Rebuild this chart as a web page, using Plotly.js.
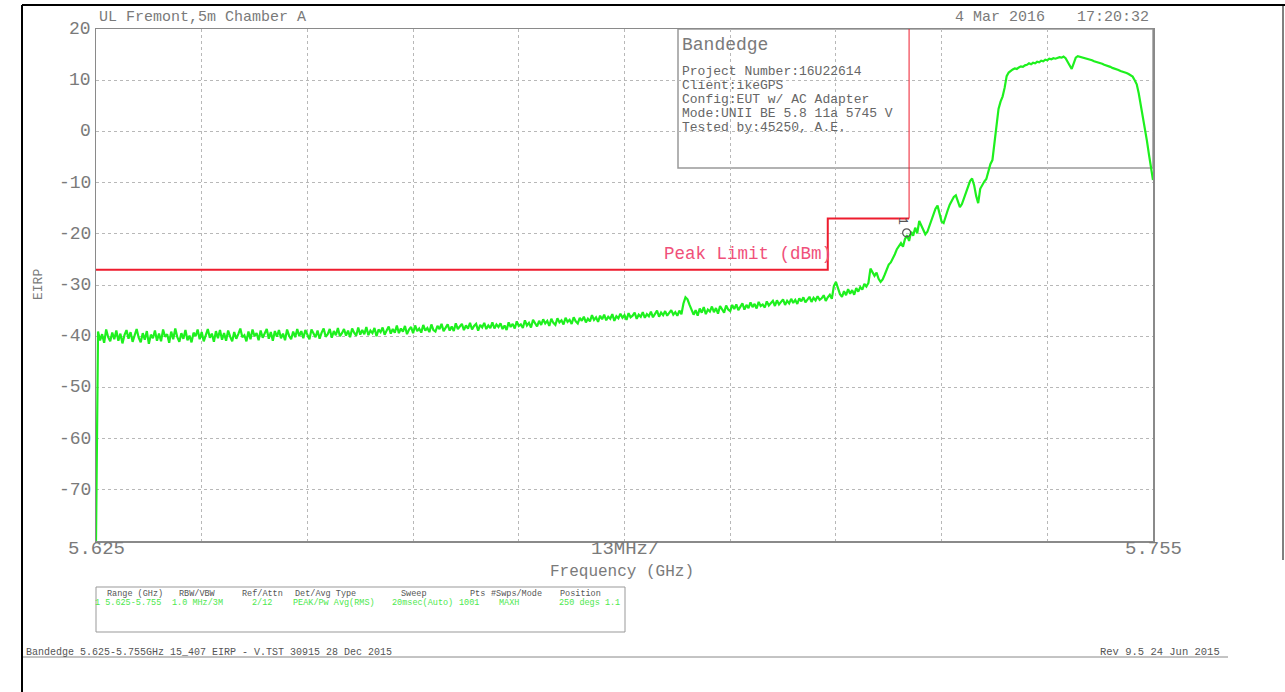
<!DOCTYPE html>
<html><head><meta charset="utf-8">
<script src="https://cdn.plot.ly/plotly-3.0.1.min.js"></script>
<style>html,body{margin:0;padding:0;background:#fff;} #chart{width:1285px;height:692px;}</style>
</head><body><div id="chart"></div>
<script>
// ---------- data ----------
const freqStartGHz = 5.625;
const freqStepGHz = 0.00025;
const eirpDbm = [
-80,
-39.1,-40.8,-39.6,-41.3,-38.7,-40.2,-41.0,-39.3,-40.6,-38.9,
-40.9,-39.5,-41.4,-39.8,-38.8,-40.5,-39.2,-41.1,-40.0,-38.6,
-40.3,-41.2,-39.4,-40.7,-39.0,-41.5,-39.7,-40.4,-38.9,-40.9,
-39.5,-41.0,-38.7,-40.1,-39.6,-41.3,-39.1,-40.6,-38.5,-40.2,
-41.1,-39.4,-40.5,-38.8,-40.8,-39.9,-41.2,-39.3,-40.0,-38.7,
-40.6,-39.2,-41.0,-39.7,-38.6,-40.3,-39.5,-41.1,-39.0,-40.4,
-38.8,-40.7,-39.4,-40.9,-38.9,-40.1,-41.0,-39.2,-40.5,-39.6,
-38.5,-40.2,-39.8,-41.0,-39.1,-40.6,-38.7,-40.0,-39.4,-40.8,
-38.9,-40.3,-39.6,-38.6,-40.5,-39.2,-40.9,-39.0,-40.1,-38.8,
-40.4,-39.5,-40.8,-38.7,-39.9,-40.6,-39.1,-40.2,-38.6,-40.0,
-39.0,-40.4,-38.8,-39.9,-40.6,-38.7,-39.5,-40.2,-38.9,-40.5,
-39.3,-38.5,-40.1,-39.6,-38.6,-40.3,-39.0,-39.8,-38.4,-40.0,
-39.4,-38.6,-39.9,-38.9,-40.2,-38.5,-39.3,-39.9,-38.3,-39.7,
-38.8,-39.6,-38.2,-39.8,-38.9,-39.4,-38.4,-40.0,-38.7,-39.2,
-38.3,-39.7,-38.9,-38.1,-39.5,-38.6,-39.3,-37.9,-39.4,-38.5,
-39.1,-38.0,-39.6,-38.7,-38.2,-39.4,-37.9,-39.0,-38.5,-39.3,
-37.8,-38.9,-38.4,-39.2,-37.7,-38.8,-39.1,-38.0,-38.6,-37.6,
-39.0,-38.3,-37.7,-38.9,-38.1,-39.0,-37.5,-38.6,-38.2,-37.6,
-38.8,-37.9,-38.5,-37.4,-38.7,-38.0,-37.6,-38.9,-37.8,-38.3,
-37.4,-38.6,-37.9,-38.4,-37.3,-38.5,-37.7,-38.2,
-37.5,-38.6,-37.9,-38.8,-37.3,-38.2,-37.6,-38.5,-37.1,-38.0,
-37.7,-38.4,-36.9,-37.9,-37.4,-38.3,-36.8,-37.6,-38.1,-37.0,
-37.8,-36.7,-37.5,-37.0,-38.0,-36.6,-37.4,-37.8,-36.5,-37.3,
-36.9,-37.7,-36.4,-37.2,-36.8,-37.6,-36.3,-37.1,-37.5,-36.4,
-37.0,-36.2,-37.3,-36.6,-37.1,-35.9,-36.8,-36.3,-37.2,-36.0,
-36.7,-35.8,-36.9,-36.2,-36.6,-35.7,-37.0,-36.1,-36.5,-35.6,
-36.4,-35.9,-36.8,-35.5,-36.3,-36.0,-35.4,-36.6,-35.8,-36.2,
-35.3,-36.4,-35.7,-36.1,-35.2,-36.3,-35.6,-35.0,-36.2,-35.4,
-35.9,-35.1,-36.0,-35.5,-34.9,-35.8,-35.3,-36.0,-35.0,-35.7,
-33.6,-32.4,-32.8,-33.9,-34.7,
-35.8,-34.9,-36.0,-34.6,-35.4,-34.3,-35.7,-34.8,-35.2,-34.2,
-35.3,-34.5,-35.6,-34.1,-34.9,-35.4,-34.0,-34.8,-35.1,-33.9,
-34.7,-33.8,-34.9,-34.3,-33.6,-34.8,-33.9,-34.5,-33.4,-34.3,
-33.7,-34.6,-33.3,-34.1,-33.8,-34.4,-33.2,-34.0,-33.5,-33.1,
-34.1,-33.0,-33.8,-33.4,-32.8,-33.9,-33.1,-33.6,-32.7,-33.5,
-32.9,-33.7,-32.6,-33.2,-32.4,-33.4,-32.8,-32.3,-33.3,-32.5,
-33.0,-32.2,-32.9,-32.6,-32.0,-33.1,-32.4,-31.9,-32.7,
-30.2,-29.4,-30.6,-31.8,
-32.3,-31.2,-32.0,-30.8,-31.7,-31.0,-31.9,-30.6,-31.3,-30.4,-30.9,-29.8,-30.3,-29.6,
-26.8,-27.5,-28.2,-27.6,-28.8,-29.4,-28.9,-28.0,-27.1,-26.0,
-25.6,-24.9,-24.0,-23.0,-22.4,-21.8,-22.5,-21.0,-20.3,-21.4,
-19.6,-20.4,-18.8,-19.9,-17.5,-18.3,-19.2,-20.1,-19.6,-18.4,
-17.2,-16.0,-15.1,-14.5,-16.2,-17.6,-17.9,-16.5,-15.4,-14.3,
-13.6,-12.8,-12.5,-13.7,-14.8,-14.2,-13.0,-11.9,-10.8,-9.7,
-9.2,-10.5,-12.6,-14.0,-11.2,-10.4,-9.8,-9.3,-7.6,-6.4,
-5.6,-2.5,1.0,4.4,5.8,6.8,8.5,10.8,11.5,11.9,
12.1,12.3,12.2,12.5,12.7,12.6,12.9,13.0,13.3,13.1,
13.4,13.3,13.6,13.5,13.8,13.7,14.0,13.9,14.2,14.1,
14.3,14.2,14.4,14.5,14.4,14.6,14.3,13.6,12.9,12.2,
13.3,14.4,14.7,14.6,14.5,14.4,14.3,14.1,14.0,13.9,
13.7,13.6,13.5,13.3,13.2,13.0,12.9,12.7,12.6,12.4,
12.3,12.1,12.0,11.8,11.7,11.5,11.4,11.2,11.0,10.7,
10.0,9.2,7.4,5.2,3.0,0.6,-1.8,-4.5,-7.0,-9.5
];
const limitFreq = [5.625, 5.715, 5.715, 5.725];
const limitDbm = [-27, -27, -17, -17];
const bandEdgeFreq = [5.725, 5.725];
const bandEdgeDbm = [-17, 20];
const markerFreq = [5.7247];
const markerDbm = [-19.8];
const xTickVals = [5.625, 5.638, 5.651, 5.664, 5.677, 5.690, 5.703, 5.716, 5.729, 5.742, 5.755];
const xTickText = ['5.625', '', '', '', '', '13MHz/', '', '', '', '', '5.755'];
const yTickVals = [20, 10, 0, -10, -20, -30, -40, -50, -60, -70, -80];
const yTickText = ['20', '10', '0', '-10', '-20', '-30', '-40', '-50', '-60', '-70', ''];
const headerLeft = 'UL Fremont,5m Chamber A';
const headerDate = '4 Mar 2016';
const headerTime = '17:20:32';
const infoTitle = 'Bandedge';
const infoLines = ['Project Number:16U22614', 'Client:ikeGPS', 'Config:EUT w/ AC Adapter', 'Mode:UNII BE 5.8 11a 5745 V', 'Tested by:45250, A.E.'];
const limitLabel = 'Peak Limit (dBm)';
const xTitle = 'Frequency (GHz)';
const yTitle = 'EIRP';
const tableHeaders = ['Range (GHz)', 'RBW/VBW', 'Ref/Attn', 'Det/Avg Type', 'Sweep', 'Pts', '#Swps/Mode', 'Position'];
const tableValues = ['1 5.625-5.755', '1.0 MHz/3M', '2/12', 'PEAK/Pw Avg(RMS)', '20msec(Auto)', '1001', 'MAXH', '250 degs 1.1'];
const footerLeft = 'Bandedge 5.625-5.755GHz 15_407 EIRP - V.TST 30915 28 Dec 2015';
const footerRight = 'Rev 9.5 24 Jun 2015';

// ---------- layout helpers (pixel -> paper) ----------
const PL = 96, PR = 1153, PT = 29, PB = 541;
const X = p => (p - PL) / (PR - PL);
const Y = p => (PB - p) / (PB - PT);
const MONO = 'Liberation Mono, DejaVu Sans Mono, monospace';
const GRAY = '#7a7a7a';

const traces = [
  {type: 'scatter', mode: 'lines', x0: freqStartGHz, dx: freqStepGHz, y: eirpDbm,
   line: {color: '#1ef01e', width: 2.2}, hoverinfo: 'skip'},
  {type: 'scatter', mode: 'lines', x: limitFreq, y: limitDbm,
   line: {color: '#ee1c2e', width: 2}, hoverinfo: 'skip'},
  {type: 'scatter', mode: 'lines', x: bandEdgeFreq, y: bandEdgeDbm,
   line: {color: '#ee1c2e', width: 1}, hoverinfo: 'skip'},
  {type: 'scatter', mode: 'markers', x: markerFreq, y: markerDbm,
   marker: {symbol: 'circle-open', size: 8, color: '#555', line: {width: 1.2}}, hoverinfo: 'skip'}
];

const ann = [];
function txt(text, px, py, opts) {
  ann.push(Object.assign({xref: 'paper', yref: 'paper', x: X(px), y: Y(py), text: text, showarrow: false,
    xanchor: 'left', yanchor: 'middle', font: {family: MONO, size: 13, color: GRAY}}, opts || {}));
}
// axis tick labels, placed through the axes' own scales
xTickVals.forEach((v, i) => {
  if (xTickText[i]) ann.push({xref: 'x', yref: 'paper', x: v, y: Y(549), text: xTickText[i], showarrow: false,
    xanchor: 'center', yanchor: 'middle', font: {family: MONO, size: 19, color: GRAY}});
});
yTickVals.forEach((v, i) => {
  if (yTickText[i]) ann.push({xref: 'paper', yref: 'y', x: X(93), y: v, text: yTickText[i], showarrow: false,
    xanchor: 'right', yanchor: 'middle', font: {family: MONO, size: 18, color: GRAY}});
});
txt(headerLeft, 97, 17, {font: {family: MONO, size: 15, color: GRAY}});
txt(headerDate, 1047, 17, {xanchor: 'right', font: {family: MONO, size: 15, color: GRAY}});
txt(headerTime, 1151, 17, {xanchor: 'right', font: {family: MONO, size: 15, color: GRAY}});
txt(infoTitle, 680, 45, {font: {family: MONO, size: 18, color: GRAY}});
infoLines.forEach((l, i) => txt(l, 680, 71 + i * 14, {font: {family: MONO, size: 13, color: '#666'}}));
txt(limitLabel, 834, 254, {xanchor: 'right', font: {family: MONO, size: 17.5, color: '#f0507a'}});
txt(yTitle, 38, 285, {xanchor: 'center', textangle: -90, font: {family: MONO, size: 13, color: GRAY}});
txt(xTitle, 622, 572, {xanchor: 'center', font: {family: MONO, size: 16, color: GRAY}});
txt('1', 903, 221, {xanchor: 'center', textangle: 90, font: {family: MONO, size: 13, color: '#555'}});
const headerX = [135, 197, 262, 325, 414, 477, 516, 580];
const valueX = [128, 197, 262, 334, 422, 469, 509, 589];
tableHeaders.forEach((h, i) => txt(h, headerX[i], 594, {xanchor: 'center', font: {family: MONO, size: 8.5, color: '#555'}}));
tableValues.forEach((v, i) => txt(v, valueX[i], 603, {xanchor: 'center', font: {family: MONO, size: 8.5, color: '#4de84d'}}));
txt(footerLeft, 24, 652, {font: {family: MONO, size: 10, color: '#555'}});
txt(footerRight, 1222, 652, {xanchor: 'right', font: {family: MONO, size: 10.5, color: '#555'}});

function pline(x0, y0, x1, y1, color, width) {
  return {type: 'line', xref: 'paper', yref: 'paper', x0: X(x0), y0: Y(y0), x1: X(x1), y1: Y(y1),
    line: {color: color, width: width}, layer: 'above'};
}
const shapes = [
  {type: 'rect', xref: 'paper', yref: 'paper', x0: X(678), x1: X(1153), y0: Y(168), y1: Y(29),
   fillcolor: '#ffffff', line: {color: '#999', width: 1.5}, layer: 'between'},
  {type: 'rect', xref: 'paper', yref: 'paper', x0: X(96), x1: X(625), y0: Y(632), y1: Y(587),
   fillcolor: 'rgba(0,0,0,0)', line: {color: '#999', width: 1}},
  pline(22, 657, 1228, 657, '#888', 1),
  pline(22, 5, 1285, 5, '#000', 2),
  pline(22, 5, 22, 692, '#000', 2),
  pline(1283, 5, 1283, 560, '#000', 1)
];

const layout = {
  width: 1285, height: 692,
  margin: {l: PL, r: 1285 - PR, t: PT, b: 692 - PB, pad: 0},
  paper_bgcolor: '#fff', plot_bgcolor: '#fff',
  showlegend: false,
  font: {family: MONO, color: GRAY},
  xaxis: {range: [5.625, 5.755], tickmode: 'array', tickvals: xTickVals, ticktext: xTickText,
    showticklabels: false,
    showgrid: true, gridcolor: '#b8b8b8', griddash: 'dot', gridwidth: 1, zeroline: false,
    showline: true, linecolor: '#8a8a8a', linewidth: 1.5, mirror: true, ticks: '', fixedrange: true},
  yaxis: {range: [-80, 20], tickmode: 'array', tickvals: yTickVals, ticktext: yTickText,
    showticklabels: false,
    showgrid: true, gridcolor: '#b8b8b8', griddash: 'dot', gridwidth: 1, zeroline: false,
    showline: true, linecolor: '#8a8a8a', linewidth: 1.5, mirror: true, ticks: '', fixedrange: true},
  annotations: ann,
  shapes: shapes
};
Plotly.newPlot('chart', traces, layout, {displayModeBar: false, staticPlot: true});
</script>
</body></html>
